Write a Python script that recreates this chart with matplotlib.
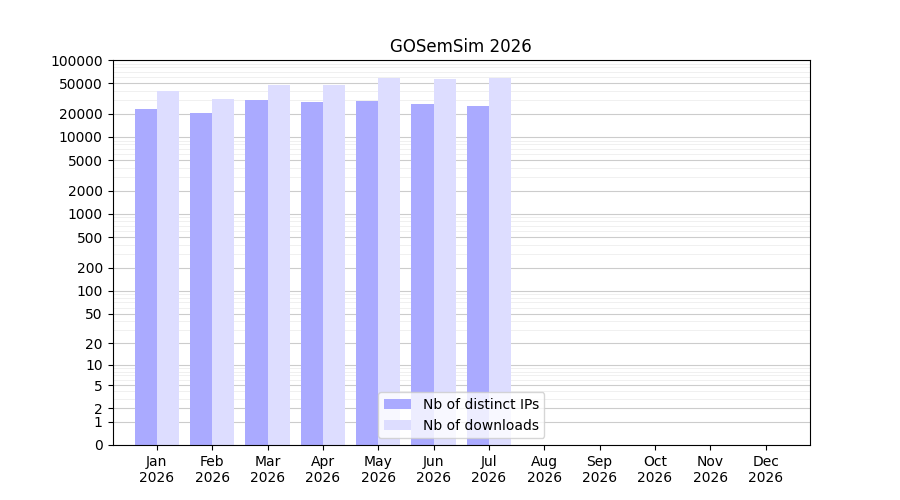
import numpy as np
import matplotlib
matplotlib.use("Agg")
import matplotlib.pyplot as plt

months = ["Jan", "Feb", "Mar", "Apr", "May", "Jun", "Jul", "Aug", "Sep", "Oct", "Nov", "Dec"]
ips = [23100, 20500, 30200, 28500, 29300, 26800, 25300, 0, 0, 0, 0, 0]
downloads = [39500, 31200, 47300, 47300, 58400, 56600, 58400, 0, 0, 0, 0, 0]
yticks = [0, 1, 2, 5, 10, 20, 50, 100, 200, 500, 1000, 2000, 5000, 10000, 20000, 50000, 100000]

fig, ax = plt.subplots(figsize=(9, 5), dpi=100)
fig.subplots_adjust(left=0.125, right=0.9, top=0.88, bottom=0.11)

ax.set_yscale("function", functions=(lambda v: np.log10(1 + np.clip(v, 0, None)),
                                     lambda v: 10 ** v - 1))
x = np.arange(1, 13)
w = 0.4
ax.bar(x - w / 2, ips, width=w, color="#aaaaff", label="Nb of distinct IPs", zorder=2)
ax.bar(x + w / 2, downloads, width=w, color="#ddddff", label="Nb of downloads", zorder=2)

ax.set_ylim(0, 100000)
ax.set_yticks(yticks)
ax.set_yticklabels([str(t) for t in yticks])
minor = [m * 10 ** e for e in range(0, 5) for m in range(2, 10)]
ax.set_yticks(minor, minor=True)
ax.tick_params(axis="y", which="minor", length=0)
ax.grid(axis="y", which="major", color="#cccccc", linewidth=0.8, zorder=0)
ax.grid(axis="y", which="minor", color="#eeeeee", linewidth=0.6, zorder=0)
ax.set_xticks(x)
ax.set_xticklabels([m + "\n2026" for m in months])
ax.set_xlim(0.2, 12.8)
ax.set_title("GOSemSim 2026")
ax.legend(loc="lower center")
fig.savefig("out.png")
